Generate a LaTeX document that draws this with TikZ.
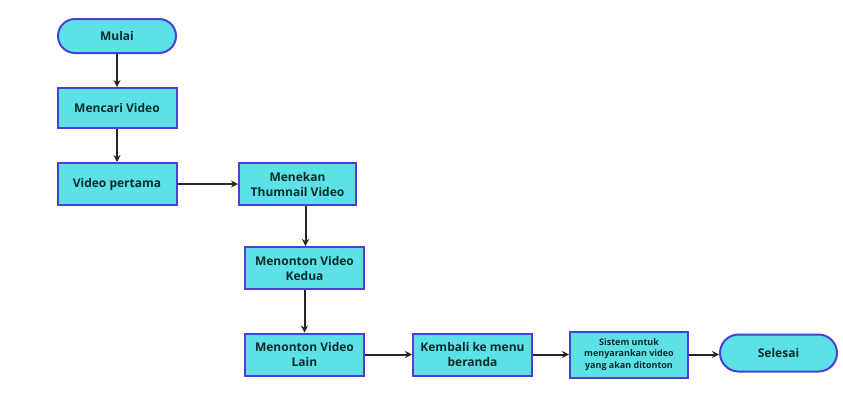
\documentclass[tikz,border=0pt]{standalone}
\usepackage{fontspec}
\setmainfont{Open Sans}
\usetikzlibrary{shapes.misc,arrows.meta}
\definecolor{boxfill}{HTML}{5CE1E6}
\definecolor{boxline}{HTML}{4A3FD6}
\definecolor{txt}{HTML}{0B2B2B}
\tikzset{
  box/.style={draw=boxline, line width=2pt, fill=boxfill, minimum width=119pt, minimum height=42pt, inner sep=1pt, align=center, font=\bfseries\fontsize{12}{15}\selectfont, text=txt},
  term/.style={box, rounded rectangle, minimum height=35pt},
  arr/.style={-{Stealth[length=7pt,width=7pt]}, line width=2pt, black!85}
}
\begin{document}
\begin{tikzpicture}[x=1pt,y=-1pt]
\useasboundingbox (0,0) rectangle (843,416);
\node[term, minimum width=120pt, minimum height=34pt] (mulai) at (117,36) {Mulai};
\node[box, minimum height=40pt] (cari) at (117,108) {Mencari Video};
\node[box] (pertama) at (117,184) {Video pertama};
\node[box, minimum width=117pt] (tekan) at (297.5,184) {Menekan\\Thumnail Video};
\node[box] (kedua) at (304.5,268) {Menonton Video\\Kedua};
\node[box] (lain) at (304.5,354.5) {Menonton Video\\Lain};
\node[box] (kembali) at (472.5,354.5) {Kembali ke menu\\beranda};
\node[box, minimum width=118pt, minimum height=46pt, font=\bfseries\fontsize{9}{11.5}\selectfont] (sistem) at (629,354.5) {Sistem untuk\\menyarankan video\\yang akan ditonton};
\node[term, minimum height=37pt] (selesai) at (778.5,353) {Selesai};
\draw[arr] (mulai) -- (cari);
\draw[arr] (cari) -- (pertama);
\draw[arr] (pertama) -- (tekan);
\coordinate (t1) at ([xshift=8pt]tekan.south);
\draw[arr] (t1) -- (t1 |- kedua.north);
\draw[arr] (kedua) -- (lain);
\draw[arr] (lain) -- (kembali);
\draw[arr] (kembali) -- (sistem);
\draw[arr] (sistem) -- (selesai.west |- sistem);
\end{tikzpicture}
\end{document}
